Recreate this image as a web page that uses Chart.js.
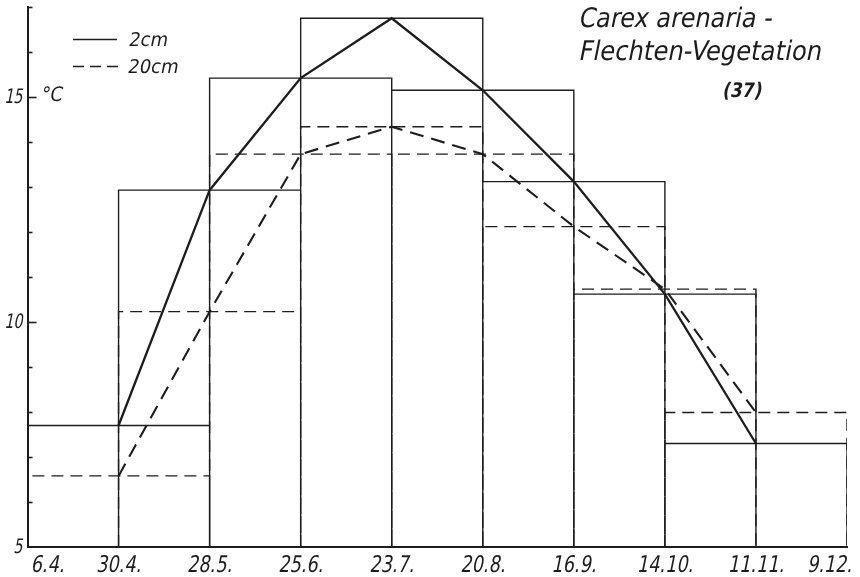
<!DOCTYPE html>
<html>
<head>
<meta charset="utf-8">
<script src="https://cdn.jsdelivr.net/npm/chart.js@4"></script>
<style>
  html, body { margin: 0; padding: 0; background: #fff; }
  #wrap { width: 860px; height: 577px; }
</style>
</head>
<body>
<div id="wrap"><canvas id="soilChart" width="860" height="577"></canvas></div>
<script>
// sampling dates, drawn evenly spaced
const dateLabels = ['6.4.', '30.4.', '28.5.', '25.6.', '23.7.', '20.8.', '16.9.', '14.10.', '11.11.', '9.12.'];
// index into dateLabels for each mean value (30.4. .. 11.11.)
const meanDates = [1, 2, 3, 4, 5, 6, 7, 8];
const temp2cm  = [7.7, 12.93, 15.42, 16.75, 15.15, 13.12, 10.62, 7.3];
const temp20cm = [6.58, 10.23, 13.73, 14.34, 13.73, 12.12, 10.73, 7.99];
const yLabels = [5, 10, 15];

const INK = '#1d1d1d';
const FONT = '"DejaVu Sans", sans-serif';
const Y_MIN = 5, Y_MAX = 17;
const SLANT = 0.2;

// each mean gets a box reaching from the date before to the date after
function boxes(values) {
  let pts = [];
  values.forEach((v, k) => {
    const d = meanDates[k];
    pts.push({x: d - 1, y: Y_MIN}, {x: d - 1, y: v}, {x: d + 1, y: v}, {x: d + 1, y: Y_MIN});
    pts.push({x: d + 1, y: null}); // break the path
  });
  return pts;
}

function curve(values) {
  return meanDates.map((d, k) => ({x: d, y: values[k]}));
}

// the stencil lettering is narrow and slanted: squeeze and skew the text
function letter(ctx, text, px, py, sx, align) {
  ctx.save();
  ctx.translate(px, py);
  ctx.transform(sx, 0, -SLANT, 1, 0, 0);
  ctx.textAlign = align || 'left';
  ctx.fillText(text, 0, 0);
  ctx.restore();
}

// inward ticks, axis labels, legend and title text
const decorations = {
  id: 'decorations',
  afterDraw(chart) {
    const {ctx, scales: {x, y}} = chart;
    ctx.save();
    ctx.strokeStyle = INK;
    ctx.fillStyle = INK;
    ctx.lineWidth = 1.6;
    ctx.textBaseline = 'alphabetic';
    for (let v = Y_MIN + 1; v <= Y_MAX; v++) {
      const py = Math.round(y.getPixelForValue(v)) + 0.5;
      const len = (v % 5 === 0) ? 9 : 5;
      ctx.beginPath();
      ctx.moveTo(x.left, py);
      ctx.lineTo(x.left + len, py);
      ctx.stroke();
    }

    // y labels
    ctx.font = '20px ' + FONT;
    yLabels.forEach(v => {
      letter(ctx, String(v), x.left - 5, y.getPixelForValue(v) + 6, 0.72, 'right');
    });
    letter(ctx, '°C', 40, 101, 0.9);

    // x labels
    ctx.font = '23px ' + FONT;
    dateLabels.forEach((lab, i) => {
      const px = x.getPixelForValue(i);
      let align = 'center', off = 0;
      if (i === 0) { align = 'left'; off = 3; }
      if (i === dateLabels.length - 1) { align = 'right'; off = 5; }
      letter(ctx, lab, px + off, 572, 0.77, align);
    });

    // legend
    ctx.lineWidth = 1.6;
    ctx.beginPath(); ctx.moveTo(73, 39.5); ctx.lineTo(117, 39.5); ctx.stroke();
    ctx.setLineDash([11, 6]);
    ctx.beginPath(); ctx.moveTo(73, 66.5); ctx.lineTo(119, 66.5); ctx.stroke();
    ctx.setLineDash([]);
    ctx.font = '19px ' + FONT;
    letter(ctx, '2cm', 128, 46, 0.95);
    letter(ctx, '20cm', 127, 73, 0.95);

    // title
    ctx.font = '27px ' + FONT;
    letter(ctx, 'Carex arenaria -', 578, 27, 0.89);
    letter(ctx, 'Flechten-Vegetation', 578, 60, 0.9);
    ctx.font = 'bold 20px ' + FONT;
    letter(ctx, '(37)', 722, 97, 0.85);
    ctx.restore();
  }
};

const ctx = document.getElementById('soilChart').getContext('2d');
const soilChart = new Chart(ctx, {
  type: 'line',
  data: {
    datasets: [{
      label: '2cm boxes',
      data: boxes(temp2cm),
      borderColor: INK,
      borderWidth: 1.4,
      spanGaps: false
    }, {
      label: '20cm boxes',
      data: boxes(temp20cm),
      borderColor: INK,
      borderWidth: 1.4,
      borderDash: [12, 7],
      spanGaps: false
    }, {
      label: '2cm',
      data: curve(temp2cm),
      borderColor: INK,
      borderWidth: 2.3
    }, {
      label: '20cm',
      data: curve(temp20cm),
      borderColor: INK,
      borderWidth: 2.1,
      borderDash: [14, 8]
    }]
  },
  options: {
    responsive: false,
    animation: false,
    layout: { padding: { left: 0, right: 13, top: 7, bottom: 0 } },
    elements: {
      point: { radius: 0, hoverRadius: 0 },
      line: { tension: 0, fill: false, borderCapStyle: 'butt', borderJoinStyle: 'miter' }
    },
    plugins: { legend: { display: false }, tooltip: { enabled: false } },
    scales: {
      x: {
        type: 'linear',
        min: 0,
        max: dateLabels.length - 1,
        grid: { display: false, drawTicks: false },
        border: { display: true, color: INK, width: 2 },
        ticks: { display: false, stepSize: 1 },
        afterFit(scale) { scale.height = 30; }
      },
      y: {
        min: Y_MIN,
        max: Y_MAX,
        grid: { display: false, drawTicks: false },
        border: { display: true, color: INK, width: 2 },
        ticks: { display: false, stepSize: 1 },
        afterFit(scale) { scale.width = 27.5; }
      }
    }
  },
  plugins: [decorations]
});
</script>
</body>
</html>
